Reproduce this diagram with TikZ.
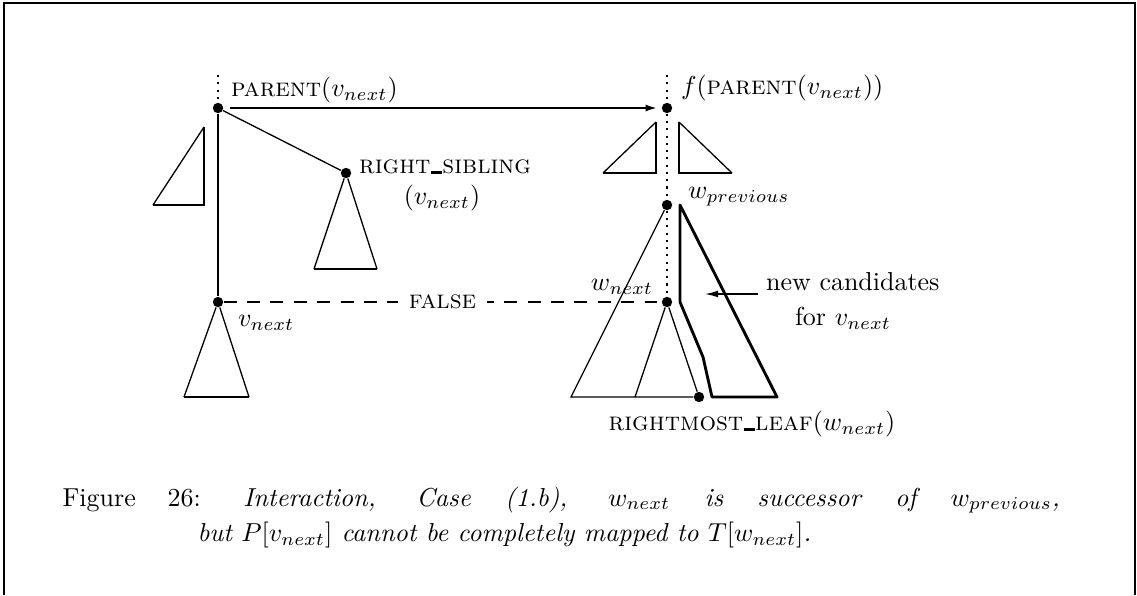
\documentclass[tikz,border=0pt]{standalone}
\usetikzlibrary{arrows.meta}
\newcommand{\subtree}[3]{\draw[fine] (#2) -- (#1) -- (#3);
	\draw[line width=0.8pt] (#2) -- (#3)}
\newcommand{\halftri}[3]{\draw[heavy] (#1) -- (#2) -- (#3);
	\draw[fine] (#3) -- (#1)}
\newcommand{\lowbar}[0]{\kern0.3pt\rule{0.42em}{0.09em}\kern0.1pt}
\tikzset{
	knot/.style={circle,fill,inner sep=0pt,minimum size=4pt},
	fine/.style={line width=0.5pt},
	heavy/.style={line width=1.1pt},
	dots/.style={dotted,line width=0.8pt},
	lbl/.style={inner sep=1pt},
}

\begin{document}
\begin{tikzpicture}[x=0.385pt,y=-0.385pt]
	\useasboundingbox (0,0) rectangle (1137,595);
	\draw[line width=1.1pt] (4,595) -- (4,3) -- (1135,3) -- (1135,595);
	% pattern side
	\node[knot] (par) at (218,108) {};
	\node[knot] (rsib) at (346,173) {};
	\node[knot] (vnext) at (218,302) {};
	\coordinate (ptop) at (218,75);
	\draw[dots] (ptop) -- (par);
	\draw[heavy] (par) -- (vnext);
	\draw[fine] (par) -- (rsib);
	\coordinate (rsl) at (314,269);
	\coordinate (rsr) at (377,269);
	\subtree{rsib}{rsl}{rsr};
	\coordinate (vl) at (184,397);
	\coordinate (vr) at (249,397);
	\subtree{vnext}{vl}{vr};
	\coordinate (lt) at (204,127);
	\coordinate (lc) at (204,205);
	\coordinate (lb) at (153,205);
	\halftri{lt}{lc}{lb};
	\node[lbl,anchor=west] (parlbl) at (228,90) {\textsc{parent}$(v_{next})$};
	\node[lbl,anchor=west] (rsiblbl) at (356,167) {\textsc{right\lowbar sibling}};
	\node[lbl] (rsibarg) at (442,198) {$(v_{next})$};
	\node[lbl,anchor=west] (vnextlbl) at (235,323) {$v_{next}$};
	% text side
	\node[knot] (fpar) at (667,108) {};
	\node[knot] (wprev) at (667,205) {};
	\node[knot] (wnext) at (667,302) {};
	\node[knot] (rleaf) at (699,397) {};
	\coordinate (ftop) at (667,75);
	\draw[dots] (ftop) -- (fpar) -- (wprev) -- (wnext);
	\coordinate (ft1) at (656,122);
	\coordinate (fc1) at (656,173);
	\coordinate (fb1) at (603,173);
	\halftri{ft1}{fc1}{fb1};
	\coordinate (ft2) at (679,122);
	\coordinate (fc2) at (679,173);
	\coordinate (fb2) at (732,173);
	\halftri{ft2}{fc2}{fb2};
	\coordinate (wl) at (571,397);
	\coordinate (wm) at (635,397);
	\draw[fine] (rleaf) -- (wl) -- (wprev);
	\draw[fine] (wm) -- (wnext) -- (rleaf);
	\draw[heavy,line join=round] (680,205) -- (777,397) -- (712,397)
		-- (703,357) -- (680,302) -- cycle;
	\node[lbl,anchor=west] (flbl) at (678,88) {$f($\textsc{parent}$(v_{next}))$};
	\node[lbl,anchor=west] (wprevlbl) at (685,197) {$w_{previous}$};
	\node[lbl] (wnextlbl) at (622,287) {$w_{next}$};
	\node[lbl] (rleaflbl) at (752,424) {\textsc{rightmost\lowbar leaf}$(w_{next})$};
	\node[lbl,anchor=west] (cand) at (763,282) {new candidates};
	\node[lbl] (candfor) at (843,318) {for $v_{next}$};
	\coordinate (arrs) at (758,294);
	\coordinate (arre) at (705,294);
	\draw[fine,-{Latex[length=5pt,width=2.6pt]}] (arrs) -- (arre);
	% mapping
	\draw[heavy,-{Latex[length=5pt,width=2.6pt]},shorten <=2.5pt,shorten >=1pt] (par) -- (fpar);
	\draw[heavy,dash pattern=on 5pt off 4pt] (vnext) -- (wnext)
		node[midway,fill=white,inner xsep=4pt,inner ysep=1pt] (false) {\textsc{false}};
	% caption
	\node[inner sep=0pt,anchor=west] (cap1) at (62,500) {\makebox[384pt][s]{Figure 26:\ \kern4pt\textit{Interaction, Case (1.b), $w_{next}$ is successor of $w_{previous}$,}}};
	\node[inner sep=0pt,anchor=west] (cap2) at (197,535) {\textit{but $P[v_{next}]$ cannot be completely mapped to $T[w_{next}]$.}};
\end{tikzpicture}
\end{document}
